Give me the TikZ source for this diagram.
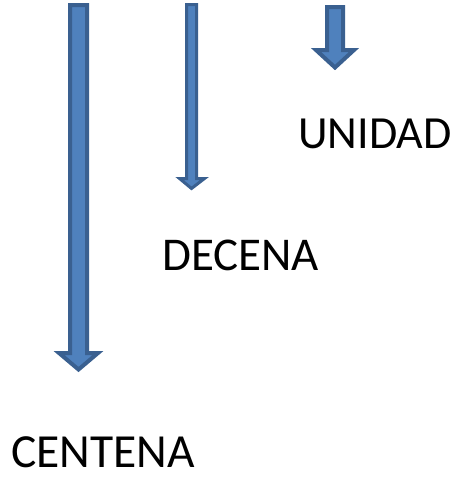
\documentclass[tikz,border=0pt]{standalone}
\usepackage{fontspec}
\setmainfont{Carlito}
\definecolor{arrfill}{HTML}{4F81BD}
\definecolor{arrline}{HTML}{3A6090}
\begin{document}
\begin{tikzpicture}[x=1pt,y=-1pt,
  blockarrow/.style={fill=arrfill,draw=arrline,line width=4pt,line join=miter},
  lbl/.style={font=\fontsize{46}{54}\selectfont,inner sep=0pt,text depth=0pt,anchor=base west}]
\useasboundingbox (0,0) rectangle (456,477);
% CENTENA arrow
\draw[blockarrow] (70,5) -- (87,5) -- (87,353) -- (98,353) -- (78.5,369.5) -- (59,353) -- (70,353) -- cycle;
% DECENA arrow
\draw[blockarrow,line width=3pt] (186.5,4.5) -- (196.5,4.5) -- (196.5,178.5) -- (204.5,178.5) -- (191.5,188.5) -- (179.5,178.5) -- (186.5,178.5) -- cycle;
% UNIDAD arrow
\draw[blockarrow] (327,7) -- (343,7) -- (343,50) -- (354,50) -- (335,67.5) -- (316,50) -- (327,50) -- cycle;
\node[lbl] (unidad) at (298,148) {UNIDAD};
\node[lbl,font=\fontsize{47}{54}\selectfont] (decena) at (162,270) {DECENA};
\node[lbl,font=\fontsize{47.5}{54}\selectfont] (centena) at (11,467) {CENTENA};
\end{tikzpicture}
\end{document}
